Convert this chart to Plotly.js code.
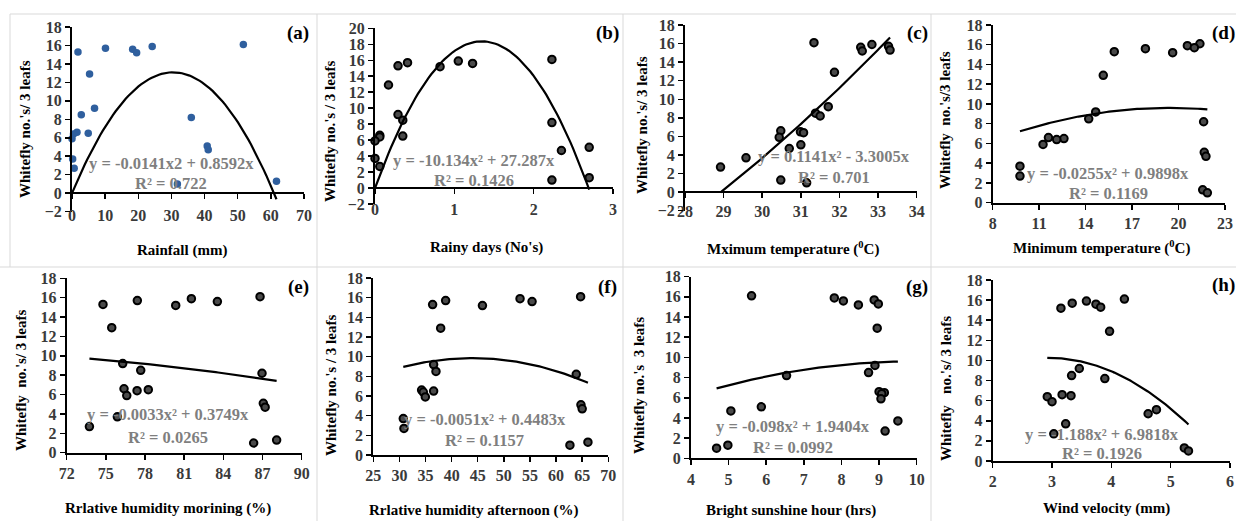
<!DOCTYPE html>
<html>
<head>
<meta charset="utf-8">
<script src="https://cdn.plot.ly/plotly-3.0.1.min.js"></script>
<style>html,body{margin:0;padding:0;background:#fff}#chart{width:1236px;height:521px}</style>
</head>
<body>
<div id="chart"></div>
<script>
// ---- Data ----
const whitefly = [16.1, 15.9, 15.7, 15.6, 15.3, 15.2, 12.9, 9.2, 8.5, 8.2, 6.6, 6.5, 6.4, 5.9, 5.1, 4.7, 3.7, 2.7, 1.3, 1.0];
const rainfall = [51.7, 24.2, 10.1, 18.3, 1.8, 19.5, 5.3, 6.8, 2.8, 36.0, 1.5, 4.9, 0.45, 0.0, 40.8, 41.1, 0.2, 0.65, 61.7, 31.8];
const rainyDays = [2.23, 1.05, 0.41, 1.23, 0.29, 0.82, 0.17, 0.29, 0.35, 2.23, 0.06, 0.35, 0.06, 0.0, 2.70, 2.35, 0.0, 0.06, 2.70, 2.23];
const maxTemp = [31.34, 32.84, 33.27, 32.55, 33.31, 32.59, 31.87, 31.71, 31.38, 31.5, 30.48, 30.99, 31.07, 30.44, 31.0, 30.7, 29.58, 28.92, 30.48, 31.15];
const minTemp = [21.38, 20.57, 21.02, 17.86, 15.85, 19.62, 15.14, 14.65, 14.2, 21.62, 11.6, 12.6, 12.13, 11.25, 21.66, 21.77, 9.76, 9.76, 21.56, 21.86];
const rhMorning = [86.81, 81.55, 77.41, 83.54, 74.78, 80.35, 75.45, 76.29, 77.67, 86.96, 76.39, 78.25, 77.39, 76.6, 87.06, 87.2, 75.88, 73.74, 88.08, 86.32];
const rhAfternoon = [64.7, 53.1, 38.85, 55.4, 36.36, 45.9, 37.9, 36.55, 37.0, 63.86, 34.25, 36.55, 34.57, 34.96, 64.76, 65.0, 30.74, 30.87, 66.1, 62.65];
const sunshine = [5.61, 7.81, 8.87, 8.05, 8.98, 8.45, 8.95, 8.89, 8.72, 6.54, 9.0, 9.14, 9.07, 9.05, 5.87, 5.06, 9.5, 9.16, 4.98, 4.68];
const windVelocity = [4.22, 3.58, 3.34, 3.74, 3.82, 3.15, 3.97, 3.46, 3.33, 3.89, 3.17, 3.32, 2.92, 3.0, 4.76, 4.62, 3.23, 3.03, 5.23, 5.3];

// trendline coefficients [a, b] for y = a x^2 + b x (as printed on the chart)
const coefA = [-0.0141, 0.8592];
const coefB = [-10.134, 27.287];
const coefC = [0.1141, -3.3005];
const coefD = [-0.0255, 0.9898];
const coefE = [-0.0033, 0.3749];
const coefF = [-0.0051, 0.4483];
const coefG = [-0.098, 1.9404];
const coefH = [-1.188, 6.9818];

const eqTexts = [
  ['y = -0.0141x2 + 0.8592x', 'R² = 0.722'],
  ['y = -10.134x² + 27.287x', 'R² = 0.1426'],
  ['y = 0.1141x² - 3.3005x', 'R² = 0.701'],
  ['y = -0.0255x² + 0.9898x', 'R² = 0.1169'],
  ['y = -0.0033x² + 0.3749x', 'R² = 0.0265'],
  ['y = -0.0051x² + 0.4483x', 'R² = 0.1157'],
  ['y = -0.098x² + 1.9404x', 'R² = 0.0992'],
  ['y = -1.188x² + 6.9818x', 'R² = 0.1926']
];
const xTitles = ['Rainfall (mm)', "Rainy days (No's)", 'Mximum temperature (<sup>0</sup>C)', 'Minimum temperature (<sup>0</sup>C)',
  'Rrlative humidity morining (%)', 'Rrlative humidity afternoon (%)', 'Bright sunshine hour (hrs)', 'Wind velocity (mm)'];
const yTitles = ["Whitefly no.'s/ 3 leafs", "Whitefly no.'s / 3 leafs", "Whitefly no.'s/ 3 leafs", "Whitefly\u00a0\u00a0no.'s/3 leafs",
  "Whitefly\u00a0\u00a0no.'s/ 3 leafs", "Whitefly no.'s / 3 leafs", "Whitefly no.'s\u00a0\u00a03 leafs", "Whitefly\u00a0\u00a0\u00a0no.'s/ 3 leafs"];
const panelLabels = ['(a)', '(b)', '(c)', '(d)', '(e)', '(f)', '(g)', '(h)'];

// ---- Layout config (pixel boxes) ----
const W = 1236, H = 521;
const fx = v => v / W, fy = v => 1 - v / H;
const panels = [
  {xs: rainfall,     coef: coefA, xr: [0, 70],  dx: 10, yr: [-2, 18], box: [72, 304, 27, 211.6],   color: '#2f5f9e', xt: [182, 250], yt: [25, 129], eq: [171, 163, 183], lab: [298, 33]},
  {xs: rainyDays,    coef: coefB, xr: [0, 3],   dx: 1,  yr: [-2, 20], box: [375, 613, 28.3, 204],  color: '#000', xt: [486, 247], yt: [330, 132], eq: [474, 160, 180], lab: [607, 33]},
  {xs: maxTemp,      coef: coefC, xr: [28, 34], dx: 1,  yr: [-2, 18], box: [685, 916.7, 25, 210.7], color: '#000', xt: [793, 248], yt: [642, 125], eq: [834, 156, 178], lab: [917, 33]},
  {xs: minTemp,      coef: coefD, xr: [8, 23],  dx: 3,  yr: [0, 18],  box: [992.7, 1225, 25, 202.7], color: '#000', xt: [1101, 247], yt: [945, 120], eq: [1108, 173, 193], lab: [1223, 33]},
  {xs: rhMorning,    coef: coefE, xr: [72, 90], dx: 3,  yr: [0, 18],  box: [66.7, 301.7, 278.3, 452.7], color: '#000', xt: [168, 508], yt: [21, 381], eq: [168, 414, 437], lab: [298, 287]},
  {xs: rhAfternoon,  coef: coefF, xr: [25, 70], dx: 5,  yr: [0, 18],  box: [373.3, 608.3, 278, 455], color: '#000', xt: [474, 510], yt: [331, 386], eq: [485, 419, 440], lab: [607, 287]},
  {xs: sunshine,     coef: coefG, xr: [4, 10],  dx: 1,  yr: [0, 18],  box: [691, 916.7, 276.7, 458.3], color: '#000', xt: [791, 510], yt: [639, 386], eq: [793, 426, 447], lab: [917, 287]},
  {xs: windVelocity, coef: coefH, xr: [2, 6],   dx: 1,  yr: [0, 18],  box: [992.7, 1230, 280, 461], color: '#000', xt: [1106, 508], yt: [946, 389], eq: [1102, 434, 453], lab: [1223, 285]}
];

const FONT = 'Liberation Serif, Times New Roman, serif';
const TICKFONT = {family: FONT, size: 16, color: '#3a3a3a', weight: 'bold'};
const data = [];
const layout = {
  width: W, height: H,
  margin: {l: 0, r: 0, t: 0, b: 0},
  paper_bgcolor: '#fff', plot_bgcolor: 'rgba(0,0,0,0)',
  showlegend: false,
  font: {family: FONT, size: 15, color: '#000'},
  annotations: [],
  shapes: []
};

panels.forEach((p, i) => {
  const n = i === 0 ? '' : String(i + 1);
  const xa = 'x' + n, ya = 'y' + n;
  const [x0, x1, yTop, yBot] = p.box;
  const yDom = [fy(yBot), fy(yTop)];
  const hasNeg = p.yr[0] < 0;
  const zeroFrac = (0 - p.yr[0]) / (p.yr[1] - p.yr[0]);
  const xaxis = {
    domain: [fx(x0), fx(x1)], range: p.xr, dtick: p.dx, tick0: p.xr[0],
    showgrid: false, zeroline: false, showline: true, linecolor: '#000', linewidth: 2,
    ticks: 'outside', ticklen: 5, tickwidth: 1.5, tickcolor: '#000',
    tickfont: TICKFONT, fixedrange: true
  };
  if (hasNeg) {
    xaxis.anchor = 'free';
    xaxis.position = yDom[0] + zeroFrac * (yDom[1] - yDom[0]);
    xaxis.ticklabelstandoff = i === 0 ? 3 : (i === 1 ? 2 : 0);
  } else {
    xaxis.anchor = ya;
  }
  const yaxis = {
    domain: yDom, range: p.yr, dtick: 2, tick0: 0, anchor: xa,
    showgrid: false, zeroline: false, showline: true, linecolor: '#000', linewidth: 2,
    ticks: 'outside', ticklen: 5, tickwidth: 1.5, tickcolor: '#000',
    tickfont: TICKFONT, fixedrange: true
  };
  layout['xaxis' + n] = xaxis;
  layout['yaxis' + n] = yaxis;

  // scatter points
  data.push({
    type: 'scatter', mode: 'markers', x: p.xs, y: whitefly, xaxis: xa, yaxis: ya,
    cliponaxis: false,
    marker: i === 0
      ? {size: 7.5, color: p.color, line: {width: 0}}
      : {size: 7.5, color: '#4a4a4a', line: {width: 2, color: '#000'}},
    hoverinfo: 'x+y'
  });

  // trendline y = a x^2 + b x over the data range
  const xmin = Math.min(...p.xs), xmax = Math.max(...p.xs);
  const tx = [], ty = [];
  const steps = 80;
  for (let k = 0; k <= steps; k++) {
    const xv = xmin + (xmax - xmin) * k / steps;
    tx.push(xv);
    ty.push(p.coef[0] * xv * xv + p.coef[1] * xv);
  }
  data.push({
    type: 'scatter', mode: 'lines', x: tx, y: ty, xaxis: xa, yaxis: ya,
    line: {color: '#000', width: 2.2}, hoverinfo: 'skip'
  });

  const eqFont = {family: FONT, size: 16.5, color: '#7f7f7f', weight: 'bold'};
  layout.annotations.push({
    xref: 'paper', yref: 'paper', x: fx(p.eq[0]), y: fy(p.eq[1]), xanchor: 'center', yanchor: 'middle',
    text: eqTexts[i][0], showarrow: false, font: eqFont
  });
  layout.annotations.push({
    xref: 'paper', yref: 'paper', x: fx(p.eq[0]), y: fy(p.eq[2]), xanchor: 'center', yanchor: 'middle',
    text: eqTexts[i][1], showarrow: false, font: eqFont
  });
  layout.annotations.push({
    xref: 'paper', yref: 'paper', x: fx(p.xt[0]), y: fy(p.xt[1]), xanchor: 'center', yanchor: 'middle',
    text: xTitles[i], showarrow: false, font: {family: FONT, size: 15, color: '#000', weight: 'bold'}
  });
  layout.annotations.push({
    xref: 'paper', yref: 'paper', x: fx(p.yt[0]), y: fy(p.yt[1]), xanchor: 'center', yanchor: 'middle',
    text: yTitles[i], textangle: -90, showarrow: false, font: {family: FONT, size: 15, color: '#000', weight: 'bold'}
  });
  layout.annotations.push({
    xref: 'paper', yref: 'paper', x: fx(p.lab[0]), y: fy(p.lab[1]), xanchor: 'center', yanchor: 'middle',
    text: panelLabels[i], showarrow: false, font: {family: FONT, size: 19, color: '#000', weight: 'bold'}
  });
});

// light chart-area borders
const border = {color: '#d9d9d9', width: 1};
const hl = (x0, x1, y) => ({type: 'line', xref: 'paper', yref: 'paper', x0: fx(x0), x1: fx(x1), y0: fy(y), y1: fy(y), line: border, layer: 'below'});
const vl = (x, y0, y1) => ({type: 'line', xref: 'paper', yref: 'paper', x0: fx(x), x1: fx(x), y0: fy(y0), y1: fy(y1), line: border, layer: 'below'});
layout.shapes.push(hl(10, 1236, 14), hl(0, 1236, 267), vl(10, 14, 267), vl(317, 14, 521), vl(623, 14, 521), vl(931, 14, 521));

Plotly.newPlot('chart', data, layout, {staticPlot: true, displayModeBar: false});
</script>
</body>
</html>
